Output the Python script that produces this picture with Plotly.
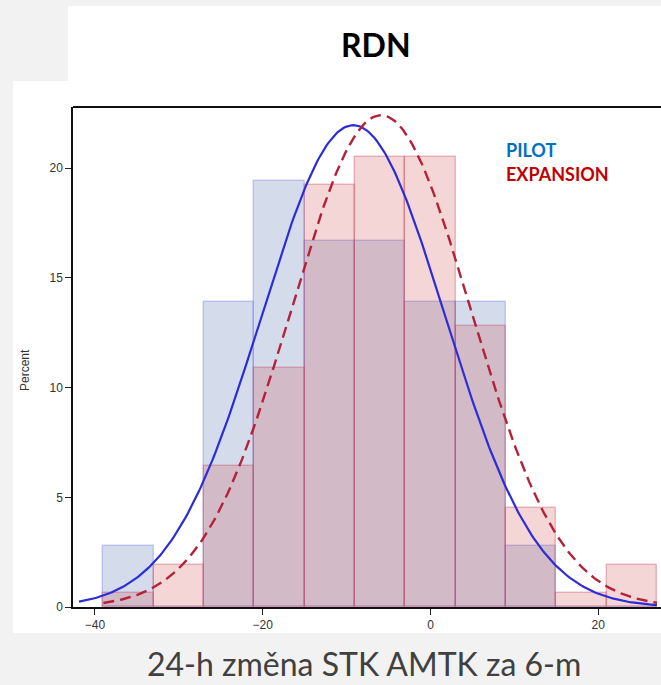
import numpy as np
import plotly.graph_objects as go

# ---- data ----
bin_left = [-39, -33, -27, -21, -15, -9, -3, 3, 9, 15, 21]
bin_width = 6
pilot_pct = [2.78, 0.0, 13.89, 19.44, 16.67, 16.67, 13.89, 13.89, 2.78, 0.0, 0.0]
expansion_pct = [0.64, 1.92, 6.41, 10.90, 19.23, 20.51, 20.51, 12.82, 4.49, 0.64, 1.92]

# fitted normal curves (mean, sd, x-span)
pilot_mu, pilot_sd, pilot_span = -9.2, 10.9, (-41.9, 27.0)
exp_mu, exp_sd, exp_span = -5.9, 10.68, (-39.0, 27.0)

x_ticks = [-40, -20, 0, 20]
y_ticks = [0, 5, 10, 15, 20]

title_text = "RDN"
x_title = "24-h změna STK AMTK za 6-m"
y_title = "Percent"
legend_labels = ["PILOT", "EXPANSION"]

# ---- figure ----
W, H = 661, 685
L, R, T, B = 73, 0, 107, 78
pw, ph = W - L - R, H - T - B


def px(xp):
    return (xp - L) / pw


def py(yp):
    return (H - B - yp) / ph


centers = [b + bin_width / 2 for b in bin_left]


def normal_curve(mu, sd, span):
    xs = np.linspace(span[0], span[1], 300)
    ys = bin_width * 100 * np.exp(-0.5 * ((xs - mu) / sd) ** 2) / (sd * np.sqrt(2 * np.pi))
    return xs, ys


fig = go.Figure()
fig.add_trace(go.Bar(
    x=centers, y=pilot_pct, width=bin_width,
    marker=dict(color="rgba(85,115,175,0.25)",
                line=dict(color="rgba(110,120,240,0.35)", width=1.5)),
    name=legend_labels[0], showlegend=False,
))
fig.add_trace(go.Bar(
    x=centers, y=expansion_pct, width=bin_width,
    marker=dict(color="rgba(205,60,60,0.21)",
                line=dict(color="rgba(200,70,90,0.35)", width=1.5)),
    name=legend_labels[1], showlegend=False,
))

bx, by = normal_curve(pilot_mu, pilot_sd, pilot_span)
fig.add_trace(go.Scatter(x=bx, y=by, mode="lines",
                         line=dict(color="#2c2cd8", width=2.2),
                         showlegend=False, hoverinfo="skip"))
rx, ry = normal_curve(exp_mu, exp_sd, exp_span)
fig.add_trace(go.Scatter(x=rx, y=ry, mode="lines",
                         line=dict(color="#b3213a", width=2.4, dash="11px,6px"),
                         showlegend=False, hoverinfo="skip"))

tick_font = dict(family="Liberation Sans, Arial, sans-serif", size=12, color="#333333")

fig.update_layout(
    width=W, height=H,
    margin=dict(l=L, r=R, t=T, b=B, pad=0),
    paper_bgcolor="#f2f2f2",
    plot_bgcolor="white",
    barmode="overlay",
    bargap=0,
    xaxis=dict(range=[-42.62, 27.48], tickvals=x_ticks, ticks="outside", ticklen=6,
               tickcolor="#222", showgrid=False, zeroline=False,
               showline=True, linecolor="#111", linewidth=1.5,
               tickfont=tick_font),
    yaxis=dict(range=[0, 22.79], tickvals=y_ticks, ticks="outside", ticklen=6,
               tickcolor="#222", showgrid=False, zeroline=False,
               showline=True, linecolor="#111", linewidth=1.5,
               tickfont=tick_font),
    shapes=[
        dict(type="rect", xref="paper", yref="paper", layer="below",
             x0=px(68), x1=px(W + 5), y0=py(81), y1=py(6),
             fillcolor="white", line=dict(width=0)),
        dict(type="rect", xref="paper", yref="paper", layer="below",
             x0=px(13), x1=px(W + 5), y0=py(633), y1=py(81),
             fillcolor="white", line=dict(width=0)),
        dict(type="line", xref="paper", yref="paper",
             x0=0, x1=1, y0=1, y1=1, line=dict(color="#111", width=2.2)),
    ],
    annotations=[
        dict(text="<b>" + title_text + "</b>", xref="paper", yref="paper",
             x=px(376), y=py(45), xanchor="center", yanchor="middle", showarrow=False,
             font=dict(family="Lato, sans-serif", size=32, color="#000")),
        dict(text=x_title, xref="paper", yref="paper",
             x=px(364), y=py(663), xanchor="center", yanchor="middle", showarrow=False,
             font=dict(family="Lato, sans-serif", size=32, color="#404040")),
        dict(text=y_title, xref="paper", yref="paper", textangle=-90,
             x=px(25), y=py(370), xanchor="center", yanchor="middle", showarrow=False,
             font=dict(family="Liberation Sans, Arial, sans-serif", size=12, color="#333")),
        dict(text="<b>" + legend_labels[0] + "</b>", xref="paper", yref="paper",
             x=px(504), y=py(150), xanchor="left", yanchor="middle", showarrow=False,
             font=dict(family="Lato, sans-serif", size=18, color="#0070c0")),
        dict(text="<b>" + legend_labels[1] + "</b>", xref="paper", yref="paper",
             x=px(504), y=py(174), xanchor="left", yanchor="middle", showarrow=False,
             font=dict(family="Lato, sans-serif", size=18, color="#c00000")),
    ],
)

fig.write_html("out.html", config={"displayModeBar": False},
               post_script="document.body.style.margin='0';")
